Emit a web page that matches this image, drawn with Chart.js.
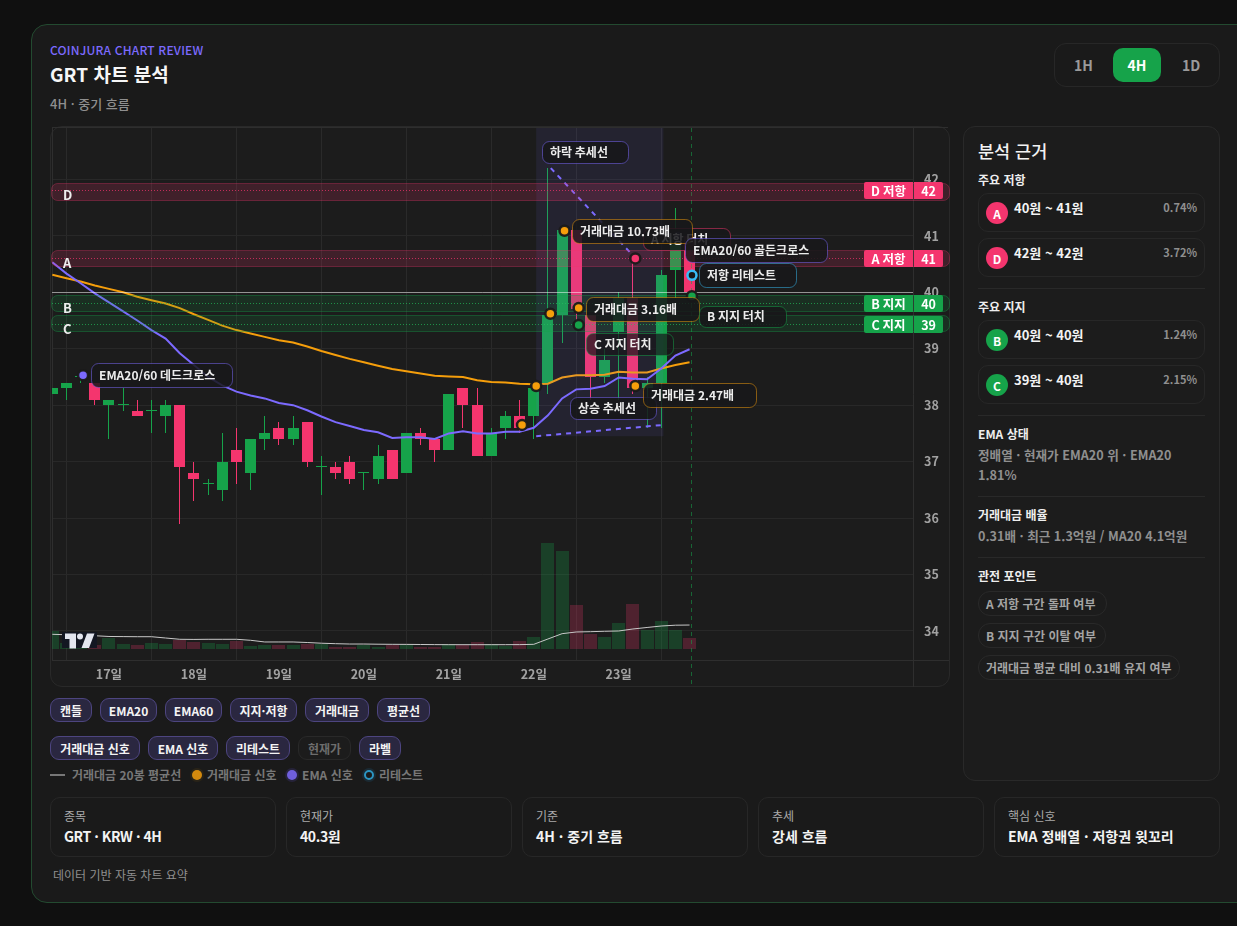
<!DOCTYPE html>
<html lang="ko">
<head>
<meta charset="utf-8">
<title>GRT 차트 분석</title>
<script src="https://cdn.jsdelivr.net/npm/chart.js@4"></script>
<style>
*{box-sizing:border-box;margin:0;padding:0}
html,body{width:1237px;height:926px;overflow:hidden;background:#101010;font-family:"Noto Sans CJK KR",sans-serif;color:#f2f2f2}
.a{position:absolute;white-space:nowrap;line-height:1}
#card{position:absolute;left:31px;top:24px;width:1240px;height:879px;background:#1a1a1a;border:1px solid #234a30;border-radius:16px}
.panel{position:absolute;background:#1c1c1c;border:1px solid #292929;border-radius:12px}
.box{position:absolute;border:1px solid #272727;border-radius:10px}
.hr{position:absolute;left:978px;width:227px;height:1px;background:#292929}
.t{display:flex;align-items:center;justify-content:center;position:absolute;height:24px;border-radius:9px;background:#2a2740;border:1px solid #4d4580;color:#f4f4f4;font-size:12px;font-weight:700;white-space:nowrap}
.t.off{background:#1c1c1c;border-color:#292929;color:#6d6d6d}
.h{font-size:12px;font-weight:700;color:#eee}
.g{font-size:12.6px;font-weight:700;color:#8f8f8f}
.bd{position:absolute;left:986px;width:22px;height:22px;border-radius:50%;display:flex;align-items:center;justify-content:center;color:#fff;font-size:12px;font-weight:700}
.chip{position:absolute;left:978px;height:25px;border:1px solid #292929;border-radius:12px;display:flex;align-items:center;padding-left:7px;font-size:12px;font-weight:700;color:#a4a4a4;white-space:nowrap}
.lb{color:#aaa;font-size:12px}
.val{font-size:14px;font-weight:700;color:#f3f3f3}
.rng{font-size:13px;font-weight:700;color:#f3f3f3}
.pct{right:40px;font-size:11px;font-weight:700;color:#8f8f8f}
#chartWrap{position:absolute;left:50px;top:126px;width:900px;height:561px}
</style>
</head>
<body>
<div id="card"></div>
<div class="a" style="left:50px;top:44px;font-size:12px;font-weight:500;letter-spacing:.2px;color:#7c6aff">COINJURA CHART REVIEW</div>
<div class="a" style="left:50px;top:64px;font-size:19px;font-weight:700;color:#f6f6f6">GRT 차트 분석</div>
<div class="a" style="left:50px;top:97px;font-size:13px;font-weight:500;color:#8f8f8f">4H · 중기 흐름</div>

<div class="box" style="left:1054px;top:43px;width:166px;height:44px;border-radius:12px"></div>
<div class="a" style="left:1074px;top:58px;font-size:14px;font-weight:700;color:#9a9a9a">1H</div>
<div style="position:absolute;left:1113px;top:48px;width:48px;height:34px;border-radius:10px;background:#16a34a;display:flex;align-items:center;justify-content:center;font-size:14px;font-weight:700;color:#fff">4H</div>
<div class="a" style="left:1182px;top:58px;font-size:14px;font-weight:700;color:#9a9a9a">1D</div>

<div class="panel" style="left:50px;top:126px;width:900px;height:561px"></div>
<div id="chartWrap"><canvas id="c" width="900" height="561"></canvas></div>

<div class="panel" style="left:963px;top:126px;width:257px;height:655px"></div>
<div class="a" style="left:978px;top:142px;font-size:17.5px;font-weight:500;color:#f2f2f2">분석 근거</div>
<div class="a h" style="left:978px;top:174px">주요 저항</div>
<div class="box" style="left:978px;top:193px;width:227px;height:39px"></div>
<div class="bd" style="top:202px;background:#f4356e">A</div>
<div class="a rng" style="left:1014px;top:201px">40원 ~ 41원</div>
<div class="a pct" style="top:202px">0.74%</div>
<div class="box" style="left:978px;top:238px;width:227px;height:39px"></div>
<div class="bd" style="top:247px;background:#f4356e">D</div>
<div class="a rng" style="left:1014px;top:246px">42원 ~ 42원</div>
<div class="a pct" style="top:247px">3.72%</div>
<div class="hr" style="top:288px"></div>
<div class="a h" style="left:978px;top:301px">주요 지지</div>
<div class="box" style="left:978px;top:320px;width:227px;height:39px"></div>
<div class="bd" style="top:329px;background:#16a34a">B</div>
<div class="a rng" style="left:1014px;top:328px">40원 ~ 40원</div>
<div class="a pct" style="top:329px">1.24%</div>
<div class="box" style="left:978px;top:365px;width:227px;height:39px"></div>
<div class="bd" style="top:374px;background:#16a34a">C</div>
<div class="a rng" style="left:1014px;top:373px">39원 ~ 40원</div>
<div class="a pct" style="top:374px">2.15%</div>
<div class="hr" style="top:415px"></div>
<div class="a h" style="left:978px;top:428px">EMA 상태</div>
<div class="a g" style="left:978px;top:449px">정배열 · 현재가 EMA20 위 · EMA20</div>
<div class="a g" style="left:978px;top:469px">1.81%</div>
<div class="hr" style="top:496px"></div>
<div class="a h" style="left:978px;top:509px">거래대금 배율</div>
<div class="a g" style="left:978px;top:530px">0.31배 · 최근 1.3억원 / MA20 4.1억원</div>
<div class="hr" style="top:557px"></div>
<div class="a h" style="left:978px;top:570px">관전 포인트</div>
<div class="chip" style="top:591px;width:129px">A 저항 구간 돌파 여부</div>
<div class="chip" style="top:623px;width:128px">B 지지 구간 이탈 여부</div>
<div class="chip" style="top:655px;width:202px">거래대금 평균 대비 0.31배 유지 여부</div>

<div class="t" style="left:50px;top:698px;width:42px">캔들</div>
<div class="t" style="left:100px;top:698px;width:57px">EMA20</div>
<div class="t" style="left:165px;top:698px;width:57px">EMA60</div>
<div class="t" style="left:230px;top:698px;width:67px">지지·저항</div>
<div class="t" style="left:305px;top:698px;width:64px">거래대금</div>
<div class="t" style="left:377px;top:698px;width:53px">평균선</div>
<div class="t" style="left:50px;top:736px;width:90px">거래대금 신호</div>
<div class="t" style="left:148px;top:736px;width:70px">EMA 신호</div>
<div class="t" style="left:226px;top:736px;width:64px">리테스트</div>
<div class="t off" style="left:298px;top:736px;width:53px">현재가</div>
<div class="t" style="left:359px;top:736px;width:42px">라벨</div>

<div style="position:absolute;left:50px;top:774px;width:15px;height:2px;background:#777"></div>
<div class="a g" style="left:72px;top:769px;font-size:12px;color:#777">거래대금 20봉 평균선</div>
<div style="position:absolute;left:192px;top:770px;width:10px;height:10px;border-radius:50%;background:#d48a0e;box-shadow:0 0 0 2px #2a2418"></div>
<div class="a g" style="left:207px;top:769px;font-size:12px;color:#777">거래대금 신호</div>
<div style="position:absolute;left:287px;top:770px;width:10px;height:10px;border-radius:50%;background:#6f5fdc;box-shadow:0 0 0 2px #26233a"></div>
<div class="a g" style="left:302px;top:769px;font-size:12px;color:#777">EMA 신호</div>
<div style="position:absolute;left:364px;top:770px;width:10px;height:10px;border-radius:50%;border:2px solid #2b95c2;box-shadow:0 0 0 2px #1b2a33"></div>
<div class="a g" style="left:379px;top:769px;font-size:12px;color:#777">리테스트</div>

<div class="box" style="left:50px;top:797px;width:226px;height:60px"></div>
<div class="a lb" style="left:64px;top:810px">종목</div><div class="a val" style="left:64px;top:829px;letter-spacing:-.45px">GRT · KRW · 4H</div>
<div class="box" style="left:286px;top:797px;width:226px;height:60px"></div>
<div class="a lb" style="left:300px;top:810px">현재가</div><div class="a val" style="left:300px;top:829px;letter-spacing:-.4px">40.3원</div>
<div class="box" style="left:522px;top:797px;width:226px;height:60px"></div>
<div class="a lb" style="left:536px;top:810px">기준</div><div class="a val" style="left:536px;top:829px">4H · 중기 흐름</div>
<div class="box" style="left:758px;top:797px;width:226px;height:60px"></div>
<div class="a lb" style="left:772px;top:810px">추세</div><div class="a val" style="left:772px;top:829px">강세 흐름</div>
<div class="box" style="left:994px;top:797px;width:226px;height:60px"></div>
<div class="a lb" style="left:1008px;top:810px">핵심 신호</div><div class="a val" style="left:1008px;top:829px">EMA 정배열 · 저항권 윗꼬리</div>
<div class="a" style="left:53px;top:869px;font-size:12px;color:#8f8f8f">데이터 기반 자동 차트 요약</div>

<script>
// ---------- data ----------
const dayTickIndex = [4,10,16,22,28,34,40];
const dayLabels = ['17일','18일','19일','20일','21일','22일','23일'];
const priceTicks = [34,35,36,37,38,39,40,41,42];

const opens  = [38.2,38.3,38.5,38.4,38.0,38.0,37.9,37.9,37.8,38.0,36.8,36.6,36.5,37.2,36.8,37.4,37.6,37.4,37.7,36.9,36.9,37.0,36.8,36.7,37.2,36.8,37.5,37.4,37.2,38.3,38.0,37.1,37.6,37.8,37.8,38.4,39.6,41.1,39.6,38.5,39.3,39.9,38.3,38.4,40.4,41.0];
const highs  = [38.3,38.4,38.5,38.4,38.1,38.3,38.1,38.1,38.1,38.0,37.0,36.7,37.5,37.6,37.4,37.8,37.7,37.8,37.7,37.1,37.0,37.1,36.8,37.3,37.2,37.5,37.6,37.4,38.2,38.3,38.3,37.6,37.9,38.1,38.3,42.2,41.1,41.1,39.6,39.0,40.0,40.6,38.5,40.4,41.5,41.0];
const lows   = [38.2,38.1,38.4,38.0,37.4,37.9,37.8,37.5,37.5,35.9,36.3,36.4,36.3,36.6,36.5,37.2,37.3,37.3,36.9,36.4,36.7,36.6,36.5,36.6,36.7,36.8,37.3,37.0,37.2,37.6,37.1,37.1,37.4,37.5,37.4,38.2,39.1,39.4,38.1,38.4,38.1,38.2,37.6,37.6,39.9,40.0];
const closes = [38.3,38.4,38.5,38.1,38.1,38.0,37.8,37.9,38.0,36.9,36.7,36.6,37.0,37.0,37.4,37.5,37.4,37.6,37.0,36.9,36.8,36.7,36.8,37.1,36.7,37.5,37.4,37.2,38.2,38.0,37.1,37.5,37.8,37.6,38.3,39.6,41.1,39.7,38.5,38.8,39.9,38.3,38.4,40.3,41.0,40.0];
const volumes = [3.03,1.03,0.68,0.68,1.88,0.8,0.68,1.03,0.8,1.59,1.25,1.03,0.8,1.37,0.51,0.63,0.68,0.68,0.85,0.85,0.34,0.34,0.68,0.34,0.63,0.63,0.34,0.34,0.85,0.68,1.2,0.91,0.56,1.37,2.05,18.12,16.75,7.52,2.56,2.05,4.44,7.69,3.25,4.79,3.25,1.88];
const volumeMA = [2.51,2.44,2.36,2.27,2.14,2.12,2.1,2.1,1.88,1.66,1.64,1.66,1.66,1.66,1.49,1.2,1.2,1.2,1.11,0.99,0.91,0.85,0.85,0.82,0.8,0.79,0.77,0.75,0.74,0.74,0.74,0.74,0.74,0.75,0.8,1.71,2.62,2.91,2.96,3.03,3.08,3.42,3.68,3.93,4.07,4.1];
const ema20 = [40.53,40.33,40.16,39.98,39.82,39.66,39.5,39.33,39.18,38.92,38.71,38.5,38.35,38.24,38.17,38.12,38.04,38.0,37.91,37.8,37.7,37.63,37.56,37.52,37.42,37.43,37.43,37.4,37.5,37.54,37.5,37.5,37.53,37.53,37.6,37.82,38.12,38.28,38.29,38.34,38.49,38.47,38.46,38.65,38.88,38.99];
const ema60 = [40.31,40.25,40.19,40.12,40.06,40.0,39.92,39.86,39.8,39.72,39.61,39.51,39.41,39.33,39.27,39.21,39.15,39.11,39.04,38.96,38.89,38.82,38.76,38.7,38.64,38.6,38.56,38.52,38.51,38.5,38.44,38.41,38.4,38.38,38.37,38.38,38.49,38.53,38.53,38.54,38.59,38.58,38.58,38.65,38.71,38.76];

const zoneNames  = ['D','A','B','C'];
const zoneLabels = ['D 저항','A 저항','B 지지','C 지지'];
const zoneValues = ['42','41','40','39'];
const zoneTop    = [41.93,40.74,39.95,39.59];
const zoneBottom = [41.63,40.46,39.67,39.32];
const zoneLevel  = [41.81,40.6,39.8,39.43];
const zoneKinds  = ['r','r','s','s'];

const priceLine = 40;
const shadeFromIndex = 34.17, shadeToIndex = 43.15, shadeTopPrice = 42.91, shadeBottomPrice = 37.45;
const fallTrendX = [35.2,41.2], fallTrendY = [42.2,40.6];
const riseTrendX = [34.17,43.15], riseTrendY = [37.45,37.65];
const nowIndex = 45.17;

const volSignalX = [33.17,34.17,35.17,36.17,37.17,41.17];
const volSignalY = [37.65,38.34,39.62,41.09,39.72,38.34];
const emaSignalX = [2.17,44.17];
const emaSignalY = [38.53,41.0];
const resistTouchX = [41.17], resistTouchY = [40.6];
const supportTouchX = [37.17,45.17], supportTouchY = [39.42,39.93];
const retestX = [45.17], retestY = [40.3];

const noteTexts = ['EMA20/60 데드크로스','하락 추세선','A 저항 터치','거래대금 10.73배','EMA20/60 골든크로스','저항 리테스트','거래대금 3.16배','B 지지 터치','C 지지 터치','상승 추세선','거래대금 2.47배'];

// ---------- styles / placement ----------
const PINK='#f4356e', GREEN='#16a34a', PURPLE='#7c6aff', ORANGE='#f59e0b', BLUE='#38bdf8';
const FONT='"Noto Sans CJK KR",sans-serif';
const notePlace = [
 [41,237,141,24,'124,106,255',.85],[492,15,86,22,'124,106,255',.85],[593,102,87,22,'244,53,110',.85],
 [522,93,120,24,'245,158,11',.85],[635,112,142,24,'124,106,255',.88],[649,137,97,24,'56,189,248',.88],
 [536,171,113,24,'245,158,11',.85],[649,180,87,21,'22,163,74',.85],[536,207,87,22,'22,163,74',.72],
 [520,271,86,22,'124,106,255',.85],[593,257,113,24,'245,158,11',.85]];

const idx = opens.map((_,i)=>i);
const xy = (xs,ys)=>xs.map((x,i)=>({x,y:ys[i]}));
const up = idx.map(i=>closes[i]>=opens[i]);
const markerDs = (xs,ys,bg,bd,r)=>({type:'scatter',isMarker:true,order:0,data:xy(xs,ys),backgroundColor:bg,borderColor:bd,borderWidth:2.5,pointRadius:r,pointHoverRadius:r});
const noMargins = s=>{s.paddingLeft=s.paddingRight=s.paddingTop=s.paddingBottom=0};

function snap(chart,ds,meta){
  if(!ds.snap) return;
  meta.data.forEach(el=>{
    el.x=Math.floor(el.x)+0.5;
    let a=Math.round(el.y),b=Math.round(el.base);
    if(a===b) b=a+1;
    el.y=a; el.base=b;
  });
}
function overlays(chart){
  const {ctx,chartArea:A,scales:{x,y}}=chart;
  ctx.save();
  const sx0=x.getPixelForValue(shadeFromIndex),sx1=x.getPixelForValue(shadeToIndex);
  const sy0=y.getPixelForValue(shadeTopPrice),sy1=y.getPixelForValue(shadeBottomPrice);
  ctx.fillStyle='rgba(124,106,255,.09)';ctx.fillRect(sx0,sy0,sx1-sx0,sy1-sy0);
  const pl=Math.floor(y.getPixelForValue(priceLine))+.5;
  ctx.strokeStyle='rgba(255,255,255,.5)';ctx.lineWidth=1;ctx.beginPath();ctx.moveTo(A.left,pl);ctx.lineTo(A.right,pl);ctx.stroke();
  const nx=Math.floor(x.getPixelForValue(nowIndex))+.5;
  ctx.strokeStyle='rgba(22,163,74,.55)';ctx.setLineDash([4,4]);ctx.beginPath();ctx.moveTo(nx,A.top);ctx.lineTo(nx,561);ctx.stroke();ctx.setLineDash([]);
  ctx.strokeStyle=PURPLE;ctx.lineWidth=2;ctx.setLineDash([5,5]);
  [[fallTrendX,fallTrendY],[riseTrendX,riseTrendY]].forEach(([xs,ys])=>{
    ctx.beginPath();ctx.moveTo(x.getPixelForValue(xs[0]),y.getPixelForValue(ys[0]));ctx.lineTo(x.getPixelForValue(xs[1]),y.getPixelForValue(ys[1]));ctx.stroke();
  });
  ctx.setLineDash([]);
  zoneNames.forEach((n,i)=>{
    const res=zoneKinds[i]==='r',rgb=res?'244,53,110':'22,163,74',solid=res?PINK:GREEN;
    const t=Math.round(y.getPixelForValue(zoneTop[i]))+.5,b=Math.round(y.getPixelForValue(zoneBottom[i]))+.5;
    ctx.fillStyle=`rgba(${rgb},${res?.17:.15})`;ctx.strokeStyle=`rgba(${rgb},${res?.3:.36})`;ctx.lineWidth=1;
    ctx.beginPath();ctx.roundRect(1.5,t,898,b-t,6);ctx.fill();ctx.stroke();
    const l=Math.floor(y.getPixelForValue(zoneLevel[i]))+.5;
    ctx.strokeStyle=res?'rgba(244,53,110,.72)':'rgba(34,197,94,.65)';ctx.setLineDash([1,2]);
    ctx.beginPath();ctx.moveTo(A.left,l);ctx.lineTo(814,l);ctx.stroke();ctx.setLineDash([]);
    ctx.fillStyle='#eee';ctx.font='700 13px '+FONT;ctx.textAlign='left';ctx.textBaseline='middle';
    ctx.fillText(n,13,l+5);
    ctx.fillStyle=solid;
    ctx.beginPath();ctx.roundRect(814,l-8.5,49,17,[2,0,0,2]);ctx.fill();
    ctx.beginPath();ctx.roundRect(864,l-8.5,29,17,[0,2,2,0]);ctx.fill();
    ctx.fillStyle='#fff';ctx.font='700 12.5px '+FONT;ctx.textAlign='center';
    ctx.fillText(zoneLabels[i],838.5,l+.5);ctx.fillText(zoneValues[i],878.5,l+.5);
  });
  ctx.restore();
}
const mark={id:'mark',
 beforeDraw(){this.done=false},
 beforeDatasetsDraw(chart){
   const {ctx,chartArea:A}=chart;ctx.save();
   ctx.strokeStyle='#2e2e2e';ctx.lineWidth=1;ctx.beginPath();
   ctx.moveTo(2.5,A.top);ctx.lineTo(2.5,A.bottom);
   ctx.moveTo(2,A.top-.5);ctx.lineTo(898,A.top-.5);
   ctx.moveTo(Math.floor(A.right)+.5,A.bottom);ctx.lineTo(Math.floor(A.right)+.5,561);
   ctx.moveTo(A.right,Math.floor(A.bottom)+.5);ctx.lineTo(899,Math.floor(A.bottom)+.5);
   ctx.stroke();ctx.restore();
 },
 beforeDatasetDraw(chart,args){
   const ds=chart.data.datasets[args.index];
   snap(chart,ds,args.meta);
   if(ds.isMarker&&!this.done){this.done=true;overlays(chart)}
 },
 afterDatasetsDraw(chart){
   const {ctx}=chart;ctx.save();
   ctx.fillStyle='#131722';ctx.fillRect(12,506,35,16);
   ctx.fillStyle='#e3e6ef';
   ctx.fill(new Path2D('M15 507.5h11v15h-6.5v-9.5h-4.5z M37 507.5h7.5l-5.5 14.5h-7.5z'));
   ctx.beginPath();ctx.arc(30,510.5,3,0,7);ctx.fill();
   ctx.font='700 12px '+FONT;ctx.textBaseline='middle';ctx.textAlign='left';
   noteTexts.forEach((s,i)=>{
     const [l,t,w,h,rgb,al]=notePlace[i];
     ctx.beginPath();ctx.roundRect(l+.5,t+.5,w,h,7);
     ctx.fillStyle=`rgba(24,24,26,${al})`;ctx.fill();
     ctx.strokeStyle=`rgba(${rgb},.5)`;ctx.lineWidth=1;ctx.stroke();
     ctx.fillStyle='#ececec';ctx.fillText(s,l+8,t+h/2);
   });
   ctx.restore();
 }};

new Chart(document.getElementById('c'),{
 type:'bar',
 plugins:[mark],
 data:{datasets:[
  {type:'bar',snap:true,order:6,grouped:false,yAxisID:'v',barThickness:13,inflateAmount:0,data:xy(idx,volumes),backgroundColor:idx.map(i=>up[i]?'rgba(22,163,74,.27)':'rgba(244,53,110,.24)')},
  {type:'line',order:5,yAxisID:'v',data:xy(idx,volumeMA),borderColor:'#c8c8c8',borderWidth:1,pointRadius:0,tension:0},
  {type:'bar',snap:true,order:4,grouped:false,barThickness:1,inflateAmount:0,data:idx.map(i=>({x:i,y:[lows[i],highs[i]]})),backgroundColor:idx.map(i=>up[i]?GREEN:PINK)},
  {type:'bar',snap:true,order:3,grouped:false,barThickness:11,inflateAmount:0,minBarLength:1,data:idx.map(i=>({x:i,y:[opens[i],closes[i]]})),backgroundColor:idx.map(i=>up[i]?GREEN:PINK)},
  {type:'line',order:2,data:xy(idx,ema60),borderColor:ORANGE,borderWidth:2,pointRadius:0,tension:0},
  {type:'line',order:1,data:xy(idx,ema20),borderColor:PURPLE,borderWidth:2,pointRadius:0,tension:0},
  markerDs(volSignalX,volSignalY,ORANGE,'rgba(26,26,26,.95)',5),
  markerDs(emaSignalX,emaSignalY,PURPLE,'rgba(26,26,26,.95)',5),
  markerDs(resistTouchX,resistTouchY,PINK,'rgba(26,26,26,.95)',5),
  markerDs(supportTouchX,supportTouchY,GREEN,'rgba(26,26,26,.95)',5),
  {type:'scatter',isMarker:true,order:0,data:xy(retestX,retestY),backgroundColor:'#18181a',borderColor:BLUE,borderWidth:2.5,pointRadius:4.5}
 ]},
 options:{
  responsive:false,animation:false,events:[],
  layout:{autoPadding:false,padding:{left:2,top:2,right:0,bottom:0}},
  plugins:{legend:{display:false},tooltip:{enabled:false}},
  scales:{
   x:{type:'linear',min:-0.024,max:60.78,offset:false,
      afterBuildTicks:s=>{s.ticks=dayTickIndex.map(v=>({value:v}))},
      afterFit:s=>{s.height=27;noMargins(s)},
      grid:{color:'#2a2a2a',drawTicks:false},border:{color:'#2e2e2e',display:true},
      ticks:{autoSkip:false,maxRotation:0,padding:7,color:'#a2a2a2',font:{family:FONT,size:12.5,weight:'700'},
        callback:v=>dayLabels[dayTickIndex.indexOf(v)]||''}},
   y:{type:'linear',position:'right',min:33.486,max:42.91,
      afterBuildTicks:s=>{s.ticks=priceTicks.map(v=>({value:v}))},
      afterFit:s=>{s.width=37;noMargins(s)},
      grid:{color:'#282828',drawTicks:false},border:{color:'#2e2e2e',display:true},
      ticks:{padding:11,color:'#a2a2a2',font:{family:FONT,size:12.5,weight:'700'},callback:v=>String(v)}},
   v:{type:'linear',display:false,min:-1.88,max:89.06,ticks:{display:false},afterFit:s=>{s.width=0;noMargins(s)}}
  }
 }
});
</script>
</body>
</html>
